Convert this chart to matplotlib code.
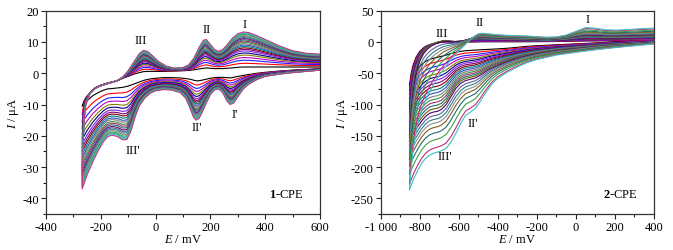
import numpy as np
import matplotlib.pyplot as plt
from matplotlib.ticker import MultipleLocator, FuncFormatter

plt.rcParams['font.family'] = ['Liberation Serif', 'DejaVu Serif']
plt.rcParams['mathtext.fontset'] = 'custom'
plt.rcParams['mathtext.rm'] = 'Liberation Serif'
plt.rcParams['mathtext.it'] = 'Liberation Serif:italic'
plt.rcParams['mathtext.bf'] = 'Liberation Serif:bold'
plt.rcParams['axes.unicode_minus'] = False

# --------------------------
# 1-CPE: reference curves (innermost black scan and outermost scan)
# --------------------------
e_up_1 = [-268, -266, -262, -255, -240, -220, -200, -170, -140, -120, -100, -80, -60, -45,
          -30, -10, 10, 40, 70, 100, 120, 140, 160, 175, 185, 200, 215, 230, 245, 260,
          280, 300, 320, 340, 370, 400, 450, 500, 550, 600]
i_up_1_inner = [-10.5, -10.0, -9.0, -7.8, -6.3, -4.6, -3.8, -3.0, -2.4, -1.6, -1.0, -0.3, 0.2, 0.5,
                0.6, 0.6, 0.6, 0.6, 0.7, 0.8, 0.9, 1.1, 1.4, 1.6, 1.7, 1.6, 1.5, 1.5, 1.5, 1.6,
                1.7, 1.9, 2.0, 2.0, 2.0, 2.0, 2.0, 2.0, 2.0, 2.0]
i_up_1_outer = [-37.0, -28.0, -16.0, -10.0, -6.5, -4.8, -4.0, -3.2, -2.4, -1.2, 0.8, 3.5, 6.2, 7.3,
                7.0, 5.5, 3.8, 2.2, 1.6, 1.8, 2.6, 4.8, 8.5, 10.6, 10.8, 9.2, 7.6, 7.0, 7.6, 9.0,
                11.2, 12.6, 13.2, 13.0, 12.0, 10.8, 8.8, 7.2, 6.4, 6.1]

e_dn_1 = [600, 550, 500, 450, 400, 370, 340, 320, 300, 285, 272, 260, 245, 230, 215, 200,
          185, 170, 158, 148, 138, 125, 110, 90, 60, 30, 0, -20, -40, -60, -75, -90, -105,
          -120, -140, -160, -175, -190, -210, -230, -250, -268]
i_dn_1_inner = [1.5, 1.2, 1.0, 0.7, 0.3, 0.0, -0.4, -0.7, -1.0, -1.3, -1.5, -1.4, -1.3, -1.3, -1.4, -1.6,
                -1.9, -2.2, -2.4, -2.4, -2.2, -1.9, -1.7, -1.5, -1.4, -1.4, -1.6, -1.8, -2.2, -2.8, -3.3, -3.8, -4.2,
                -4.5, -4.7, -4.9, -5.0, -5.4, -6.2, -7.2, -8.8, -10.5]
i_dn_1_outer = [1.0, 0.6, 0.2, -0.3, -1.0, -2.0, -3.5, -5.0, -7.5, -9.5, -10.0, -8.8, -6.2, -5.0, -5.3, -6.8,
                -9.5, -12.5, -14.5, -15.0, -14.0, -11.0, -8.0, -6.2, -5.4, -5.2, -5.6, -6.4, -8.0, -10.5, -14.0, -18.5, -21.2,
                -21.3, -20.2, -19.8, -20.3, -21.8, -24.8, -28.5, -32.5, -37.0]

ref_peak_1 = [-4.2, -21.2]           # III' current of the reference scans (E = -105 mV)
peak_1 = [-4.2, -6.0, -7.5, -8.8, -10.0, -11.0, -12.0, -12.8, -13.5, -14.2, -14.9, -15.5,
          -16.2, -16.8, -17.4, -18.0, -18.5, -19.0, -19.5, -20.0, -20.4, -20.8, -21.2]

# --------------------------
# 2-CPE: reference curves (inner, middle, outer scan)
# --------------------------
e_up_2 = [-853, -845, -835, -820, -800, -780, -760, -740, -720, -700, -680, -660, -640, -620,
          -600, -580, -560, -540, -520, -500, -480, -450, -400, -350, -300, -250, -200, -150,
          -100, -50, 0, 50, 100, 150, 200, 250, 300, 350, 400]
i_up_2_inner = [-70, -52, -38, -25, -15, -9, -5.5, -3.5, -2, -1, 0, 0.3, 0, -0.3,
                -0.3, -0.2, 0, 0, 0, 0.2, 0.3, 0.3, 0.3, 0.3, 0.3, 0.4, 0.5, 0.6,
                0.8, 1.0, 1.3, 1.6, 1.7, 1.8, 1.9, 2.0, 2.0, 2.0, 2.0]
i_up_2_mid = [-157, -115, -80, -50, -28, -16, -9, -4.5, -1.5, 0.5, 1.8, 2.0, 1.2, 0.8,
              1.2, 2.0, 3.5, 5.5, 7.0, 7.8, 7.8, 7.2, 6.5, 6.0, 5.8, 5.5, 5.0, 4.5,
              5.0, 6.5, 9.0, 11.0, 10.8, 10.0, 10.0, 10.3, 10.8, 11.2, 11.5]
i_up_2_outer = [-237, -205, -175, -145, -118, -100, -86, -74, -63, -53, -44, -36, -28, -21,
                -14, -8, -2, 4, 9, 13, 14, 13, 11.5, 10.5, 10, 9.5, 8.5, 7.5,
                8, 11, 17, 23, 22, 19.5, 19, 19.5, 20.5, 21.5, 22]

e_dn_2 = [400, 300, 200, 100, 0, -100, -200, -250, -300, -350, -400, -430, -460, -490, -515,
          -540, -565, -590, -615, -640, -665, -690, -710, -730, -750, -770, -790, -810, -830,
          -845, -853]
i_dn_2_inner = [2, 1, 0, -1.5, -3, -4.5, -6, -7, -8.5, -10, -11, -11.5, -12, -12.5, -13,
                -13.5, -14, -15, -16.5, -18.5, -21, -23, -24.5, -26, -28, -31, -36, -43, -52,
                -62, -70]
i_dn_2_mid = [-1, -3, -5, -7.5, -10.5, -14, -19, -22, -26, -31, -37, -41, -46, -52, -56,
              -58, -60, -64, -72, -85, -98, -106, -109, -110, -112, -117, -124, -133, -143,
              -152, -157]
i_dn_2_outer = [-3, -6, -9, -12.5, -16.5, -21, -28, -33, -40, -48, -58, -67, -80, -95, -106,
                -112, -117, -130, -146, -160, -170, -174, -176, -178, -181, -186, -194, -205, -218,
                -230, -237]

ref_peak_2 = [-26, -110, -178]       # III' current of the reference scans (E = -730 mV)
peak_2 = [-26, -33, -40, -46, -52, -57, -62, -67, -72, -77, -82, -87, -92, -97, -102,
          -107, -112, -118, -124, -130, -137, -146, -157, -170, -178]

# line colours, innermost scan first (Origin-like cycle)
colors_1 = ['#000000', '#ff0000', '#2020ff', '#c000c0', '#808000', '#000080', '#8020e0',
            '#800080', '#800000', '#008080', '#3050c0', '#808080', '#409040', '#a03070',
            '#207070', '#700070', '#6060a0', '#308080', '#909090', '#40a040', '#30a0a0',
            '#40c0c0', '#c03880']
colors_2 = ['#000000', '#ff0000', '#2020ff', '#c000c0', '#808000', '#000080', '#8020e0',
            '#800080', '#800000', '#008080', '#3050c0', '#808080', '#409040', '#a03070',
            '#207070', '#606000', '#500070', '#6060a0', '#308080', '#909090', '#806020',
            '#207070', '#40a040', '#c02a80', '#40c0c0']


def scan_family(e_up, ups, e_dn, dns, ref_peaks, peaks):
    ups = np.array(ups, dtype=float)
    dns = np.array(dns, dtype=float)
    pos = np.arange(len(ref_peaks))
    curves = []
    for p in peaks:
        f = np.interp(-p, -np.array(ref_peaks), pos)
        k = min(int(f), len(ref_peaks) - 2)
        w = f - k
        up = ups[k] * (1 - w) + ups[k + 1] * w
        dn = dns[k] * (1 - w) + dns[k + 1] * w
        curves.append((np.r_[e_dn, e_up], np.r_[dn, up]))
    return curves


def thousands(x, pos):
    v = int(round(x))
    if abs(v) >= 1000:
        s = f"{abs(v):,}".replace(",", " ")
        return ("-" if v < 0 else "") + s
    return str(v)


fig = plt.figure(figsize=(6.73, 2.51), dpi=100)
ax1 = fig.add_axes([0.0684, 0.1434, 0.4071, 0.81])
ax2 = fig.add_axes([0.5657, 0.1434, 0.4061, 0.81])

fam1 = scan_family(e_up_1, [i_up_1_inner, i_up_1_outer], e_dn_1, [i_dn_1_inner, i_dn_1_outer],
                   ref_peak_1, peak_1)
fam2 = scan_family(e_up_2, [i_up_2_inner, i_up_2_mid, i_up_2_outer],
                   e_dn_2, [i_dn_2_inner, i_dn_2_mid, i_dn_2_outer], ref_peak_2, peak_2)

for ax, fam, cols in ((ax1, fam1, colors_1), (ax2, fam2, colors_2)):
    for j, (e, i) in enumerate(fam):
        ax.plot(e, i, color=cols[j], lw=0.8, zorder=2 + j * 0.01)

fs = 9
ax1.set_xlim(-400, 600)
ax1.set_ylim(-45, 20)
ax1.xaxis.set_major_locator(MultipleLocator(200))
ax1.xaxis.set_minor_locator(MultipleLocator(100))
ax1.yaxis.set_major_locator(MultipleLocator(10))
ax1.yaxis.set_minor_locator(MultipleLocator(5))

ax2.set_xlim(-1000, 400)
ax2.set_ylim(-275, 50)
ax2.xaxis.set_major_locator(MultipleLocator(200))
ax2.xaxis.set_minor_locator(MultipleLocator(100))
ax2.yaxis.set_major_locator(MultipleLocator(50))
ax2.yaxis.set_minor_locator(MultipleLocator(25))

for ax in (ax1, ax2):
    ax.xaxis.set_major_formatter(FuncFormatter(thousands))
    ax.tick_params(which='major', length=3.5, width=0.8, labelsize=fs, pad=1.5, colors='#222222',
                   labelcolor='black')
    ax.tick_params(which='minor', length=2, width=0.8, colors='#222222')
    for s in ax.spines.values():
        s.set_linewidth(0.9)
        s.set_color('#333333')
    ax.set_xlabel('$E$ / mV', fontsize=fs, labelpad=0)
    ax.set_ylabel('$I$ / μA', fontsize=fs, labelpad=1)

# peak labels, 1-CPE
for txt, x, y in [('III', -55, 10.5), ('II', 186, 14.2), ('I', 324, 15.7),
                  ("I'", 290, -13), ("II'", 150, -17.3), ("III'", -82, -24.5)]:
    ax1.text(x, y, txt, fontsize=fs, ha='center', va='center')
ax1.text(478, -38.6, r'$\mathbf{1}$-CPE', fontsize=fs, ha='center', va='center')

# peak labels, 2-CPE
for txt, x, y in [('III', -688, 14.4), ('II', -495, 31.4), ('I', 58, 36.7),
                  ("II'", -526, -129.5), ("III'", -672, -182)]:
    ax2.text(x, y, txt, fontsize=fs, ha='center', va='center')
ax2.text(226, -243, r'$\mathbf{2}$-CPE', fontsize=fs, ha='center', va='center')

fig.savefig('out.png', dpi=100)
